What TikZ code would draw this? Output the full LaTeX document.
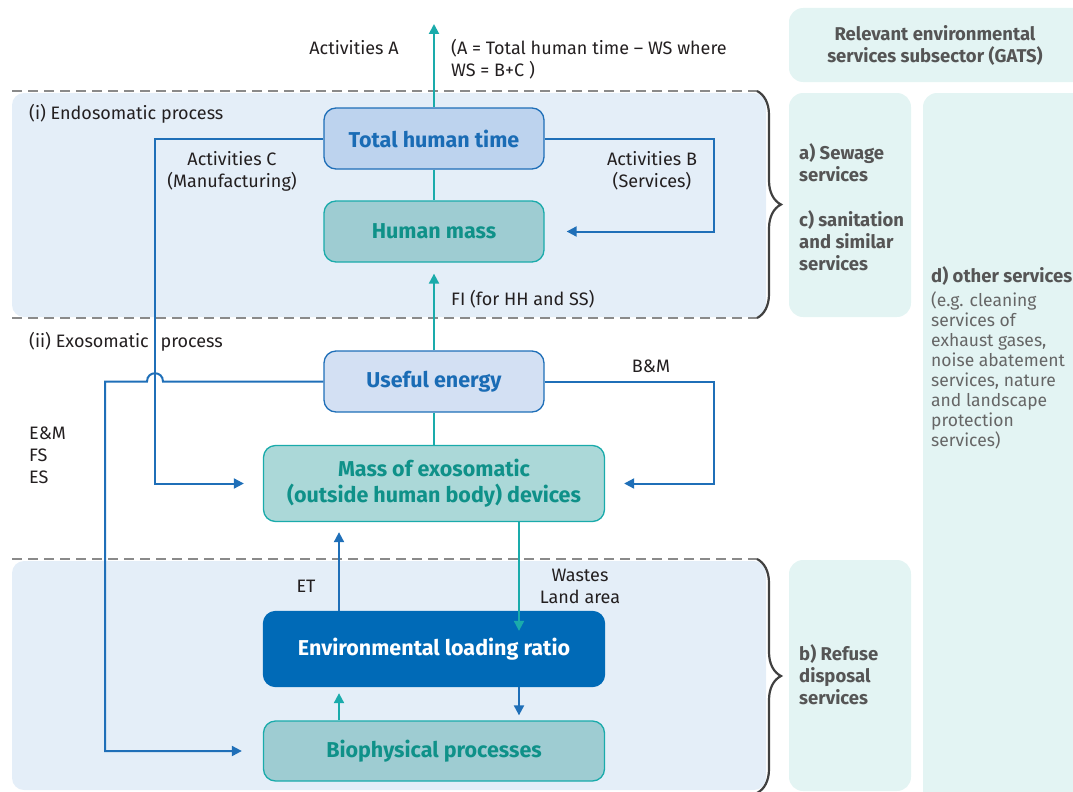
\documentclass[tikz,border=0pt]{standalone}
\usepackage{fontspec}
\setmainfont{Fira Sans}
\usetikzlibrary{positioning, arrows.meta, decorations.pathreplacing}

\definecolor{flowblue}{HTML}{1F6FB8}
\definecolor{flowteal}{HTML}{1AABAB}
\definecolor{zonefill}{HTML}{E4EEF8}
\definecolor{panelfill}{HTML}{E3F4F3}
\definecolor{paneltext}{HTML}{555555}
\definecolor{notetext}{HTML}{666666}
\definecolor{labeltext}{HTML}{231F20}
\definecolor{timefill}{HTML}{BDD3EE}
\definecolor{energyfill}{HTML}{D3E0F3}
\definecolor{massfill}{HTML}{9ECCD2}
\definecolor{devicefill}{HTML}{ABD8D8}
\definecolor{loadfill}{HTML}{006AB7}
\definecolor{boxblue}{HTML}{1A6CB5}
\definecolor{boxteal}{HTML}{0F9189}
\definecolor{dashgray}{HTML}{8A8A8A}
\definecolor{bracegray}{HTML}{404040}

\begin{document}
\begin{tikzpicture}[x=1pt, y=-1pt,
    box/.style={rectangle, rounded corners=12pt, line width=1.3pt, minimum width=220pt,
        minimum height=61pt, inner sep=0pt, align=center,
        font=\fontsize{21.5}{26}\selectfont\bfseries},
    lbl/.style={font=\fontsize{18}{22}\selectfont, text=labeltext, inner sep=0pt, align=center},
    flow/.style={draw=flowblue, line width=2pt},
    feed/.style={draw=flowteal, line width=2pt},
    tip/.style={-{Triangle[length=10pt,width=10pt]}},
    divider/.style={draw=dashgray, line width=1.3pt, dash pattern=on 10pt off 6pt},
    zone/.style={fill=zonefill, rounded corners=12pt},
    panel/.style={fill=panelfill, rounded corners=14pt},
    ptext/.style={font=\fontsize{18.5}{22}\selectfont\bfseries, text=paneltext, inner sep=0pt, align=left},
    curly/.style={draw=bracegray, line width=2.2pt, decorate, decoration={brace, amplitude=24pt}}]

\useasboundingbox (0,0) rectangle (1073,792);

% background zones and subsector panels
\fill[zone] (12,93) rectangle (766,317);
\fill[zone] (12,561) rectangle (766,790);
\fill[panel] (789,8) rectangle (1090,82);
\fill[panel] (789,93) rectangle (911,317);
\fill[panel] (923,93) rectangle (1090,810);
\fill[panel] (789,560) rectangle (911,791);

\draw[divider] (12,91) -- (757,91);
\draw[divider] (12,318) -- (757,318);
\draw[divider] (12,559) -- (757,559);
\draw[curly] (757,91) -- (757,318);
\draw[curly] (757,559) -- (757,793);

% boxes
\node[box, fill=timefill, draw=flowblue, text=boxblue] (Time) at (434,138.5) {Total human time};
\node[box, fill=massfill, draw=flowteal, text=boxteal] (Mass) at (434,231.5) {Human mass};
\node[box, fill=energyfill, draw=flowblue, text=boxblue] (Energy) at (434,381.5) {Useful energy};
\node[box, fill=devicefill, draw=flowteal, text=boxteal, minimum width=341pt, minimum height=76pt] (Dev) at (434,483.5) {Mass of exosomatic\\(outside human body) devices};
\node[box, fill=loadfill, draw=loadfill, text=white, minimum width=341pt, minimum height=75pt] (ELR) at (434,649) {Environmental loading ratio};
\node[box, fill=massfill, draw=flowteal, text=boxteal, minimum width=341pt, minimum height=60pt] (Bio) at (434,751) {Biophysical processes};

% labels
\node[lbl] (actA) at (354,48) {Activities A};
\node[lbl, align=left, anchor=west] (actNote) at (451,59.5) {(A = Total human time – WS where\\WS = B+C )};
\node[lbl] (actC) at (232,171) {Activities C\\(Manufacturing)};
\node[lbl] (actB) at (652,171) {Activities B\\(Services)};
\node[lbl, anchor=west] (fi) at (451,299) {FI (for HH and SS)};
\node[lbl, anchor=west] (endo) at (29,114) {(i) Endosomatic process};
\node[lbl, anchor=west] (exo) at (29,342) {(ii) Exosomatic\hspace{7pt} process};
\node[lbl, align=left, anchor=west] (carriers) at (29,455) {E\&M\\FS\\ES};
\node[lbl] (bm) at (651,366) {B\&M};
\node[lbl] (et) at (306,586) {ET};
\node[lbl] (wastes) at (580,586) {Wastes\\Land area};

% subsector texts
\node[ptext, align=center] (gats) at (935,45) {Relevant environmental\\services subsector (GATS)};
\node[ptext, anchor=west] (sewage) at (799,162.5) {a) Sewage\\services};
\node[ptext, anchor=west] (sanit) at (799,241) {c) sanitation\\and similar\\services};
\node[ptext, anchor=west] (refuse) at (799,675) {b) Refuse\\disposal\\services};
\node[ptext, anchor=west] (other) at (931,276) {d) other services};
\node[lbl, text=notetext, align=left, anchor=west, font=\fontsize{17.5}{20}\selectfont] (otherNote) at (931,370) {(e.g. cleaning\\services of\\exhaust gases,\\noise abatement\\services, nature\\and landscape\\protection\\services)};

% connectors
\coordinate (colC) at (155,0);
\coordinate (colB) at (714,0);
\coordinate (colE) at (105,0);
\coordinate (colL) at (339,0);
\coordinate (colR) at (519,0);
\coordinate (topA) at (434,24);

\draw[feed, tip] (Time.north) -- (topA);
\draw[feed] (Time.south) -- (Mass.north);
\draw[feed, tip, shorten >=11pt] (Energy.north) -- (Mass.south);
\draw[feed] (Energy.south) -- (Dev.north);
\draw[flow, tip, shorten >=19pt] (Time.west) -- (Time.west -| colC) -- (Dev.west -| colC) -- (Dev.west);
\draw[flow, tip, shorten >=22pt] (Time.east) -- (Time.east -| colB) -- (Mass.east -| colB) -- (Mass.east);
\draw[flow, tip, shorten >=19pt] (Energy.east) -- (Energy.east -| colB) -- (Dev.east -| colB) -- (Dev.east);
\draw[flow, tip, shorten >=21pt] (Energy.west) -- ([xshift=8pt]Energy.west -| colC)
    .. controls +(0,-11) and +(0,-11) .. ([xshift=-8pt]Energy.west -| colC)
    -- (Energy.west -| colE) -- (Bio.west -| colE) -- (Bio.west);
\draw[flow, tip, shorten >=10pt] (ELR.north -| colL) -- (Dev.south -| colL);
\draw[feed, tip, shorten >=-20pt] (Dev.south -| colR) -- (ELR.north -| colR);
\draw[flow, tip, shorten >=5pt] (ELR.south -| colR) -- (Bio.north -| colR);
\draw[feed, tip, shorten >=6pt] (Bio.north -| colL) -- (ELR.south -| colL);
\end{tikzpicture}
\end{document}
